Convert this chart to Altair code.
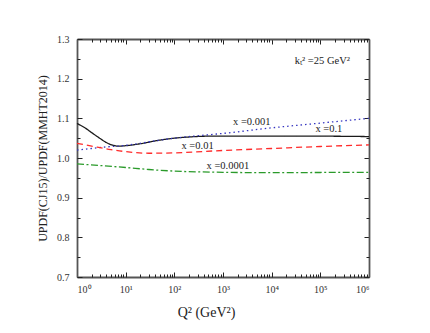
import altair as alt
import pandas as pd

# ---- data ----
q_x01 = [1, 1.5, 2, 3, 4, 5.5, 7, 10, 20, 50, 100, 200, 500, 1e3, 1e4, 1e5, 1e6]
r_x01 = [1.087, 1.075, 1.064, 1.049, 1.039, 1.032, 1.030, 1.031, 1.036, 1.045, 1.050, 1.053, 1.055, 1.055, 1.055, 1.055, 1.054]

q_x0001 = [1, 2, 4, 7, 10, 20, 50, 100, 300, 1e3, 1e4, 1e5, 1e6]
r_x0001 = [1.020, 1.024, 1.028, 1.030, 1.032, 1.037, 1.045, 1.050, 1.056, 1.062, 1.076, 1.088, 1.100]

q_x001 = [1, 2, 5, 10, 30, 100, 1e3, 1e4, 1e5, 1e6]
r_x001 = [1.037, 1.030, 1.021, 1.016, 1.012, 1.013, 1.019, 1.024, 1.029, 1.033]

q_x00001 = [1, 3, 10, 30, 100, 1e3, 1e4, 1e5, 1e6]
r_x00001 = [0.985, 0.981, 0.976, 0.971, 0.967, 0.964, 0.963, 0.9635, 0.964]

series_names = ["x=0.1", "x=0.001", "x=0.01", "x=0.0001"]
series_colors = ["#1a1a1a", "#3535c0", "#ff2a2a", "#2a9a2a"]
series_dash = [[1, 0], [1.5, 3], [6, 4], [7, 2.5, 2, 2.5]]

label_texts = ["x =0.001", "x =0.1", "x =0.01", "x =0.0001", "kₜ² =25 GeV²"]
label_q = [3900, 150000, 300, 1260, 110000]
label_r = [1.091, 1.072, 1.031, 0.980, 1.2445]

x_major = [1, 10, 100, 1e3, 1e4, 1e5, 1e6]
x_minor = [m * 10 ** k for k in range(6) for m in range(2, 10)]
y_major = [0.7, 0.8, 0.9, 1.0, 1.1, 1.2, 1.3]
y_minor = [0.75, 0.85, 0.95, 1.05, 1.15, 1.25]

W, H = 292, 238
FONT = "Liberation Serif"
TICK = "#222222"
DOMAIN = "#555555"

rows = []
for name, qs, rs in [("x=0.1", q_x01, r_x01), ("x=0.001", q_x0001, r_x0001),
                     ("x=0.01", q_x001, r_x001), ("x=0.0001", q_x00001, r_x00001)]:
    for q, r in zip(qs, rs):
        rows.append({"series": name, "q": q, "r": r})
df = pd.DataFrame(rows)
lab = pd.DataFrame({"text": label_texts, "q": label_q, "r": label_r})

xs = alt.Scale(type="log", domain=[1, 1e6], nice=False)
ys = alt.Scale(domain=[0.7, 1.3], zero=False, nice=False)

label_expr = "'10' + ['⁰','¹','²','³','⁴','⁵','⁶'][round(log(datum.value)/LN10)]"

main = alt.Chart(df).mark_line(strokeWidth=1.3, interpolate="monotone").encode(
    x=alt.X("q:Q", scale=xs, axis=alt.Axis(
        orient="bottom", values=x_major, ticks=False, grid=False, domain=True,
        domainColor=DOMAIN, domainWidth=1.8, labelExpr=label_expr,
        labelFont=FONT, labelFontSize=10, labelColor="#333333", labelPadding=7,
        title="Q² (GeV²)", titleFont=FONT, titleFontSize=14, titleFontWeight="normal",
        titleColor="#222222", titleX=129, titleY=39, titleBaseline="alphabetic",
        titleAnchor="start", titleAlign="center")),
    y=alt.Y("r:Q", scale=ys, axis=alt.Axis(
        orient="left", values=y_major, ticks=False, grid=False, domain=True,
        domainColor=DOMAIN, domainWidth=1.8, format=".1f",
        labelFont=FONT, labelFontSize=10, labelColor="#333333", labelPadding=8,
        title="UPDF(CJ15)/UPDF(MMHT2014)", titleFont=FONT, titleFontSize=12,
        titleFontWeight="normal", titleColor="#222222", titleX=-31, titleY=119,
        titleBaseline="alphabetic", titleAlign="center", titleAngle=270)),
    color=alt.Color("series:N", scale=alt.Scale(domain=series_names, range=series_colors), legend=None),
    strokeDash=alt.StrokeDash("series:N", scale=alt.Scale(domain=series_names, range=series_dash), legend=None),
    detail="series:N",
)


def tick_layer(xorient, xoff, xvals, xsize, yorient, yoff, yvals, ysize, dom):
    return alt.Chart(df).mark_point(opacity=0).encode(
        x=alt.X("q:Q", scale=xs, axis=alt.Axis(
            orient=xorient, offset=xoff, values=xvals, tickSize=xsize, tickColor=TICK,
            tickWidth=1, labels=False, grid=False, domain=dom, domainColor=DOMAIN,
            domainWidth=1.8, title=None)),
        y=alt.Y("r:Q", scale=ys, axis=alt.Axis(
            orient=yorient, offset=yoff, values=yvals, tickSize=ysize, tickColor=TICK,
            tickWidth=1, labels=False, grid=False, domain=dom, domainColor=DOMAIN,
            domainWidth=1.8, title=None)),
    )


# inward ticks at bottom/left edges
t1 = tick_layer("top", -H, x_major, 5, "right", -W, y_major, 5, False)
t2 = tick_layer("top", -H, x_minor, 3, "right", -W, y_minor, 3, False)
# inward ticks at top/right edges (with frame lines)
t3 = tick_layer("bottom", -H, x_major, 5, "left", -W, y_major, 5, True)
t4 = tick_layer("bottom", -H, x_minor, 3, "left", -W, y_minor, 3, False)

texts = alt.Chart(lab).mark_text(font=FONT, fontSize=10.5, color="#222222", align="center",
                                 baseline="middle").encode(
    x=alt.X("q:Q", scale=xs, axis=None),
    y=alt.Y("r:Q", scale=ys, axis=None),
    text="text:N",
)

chart = alt.layer(main, t1, t2, t3, t4, texts).resolve_axis(
    x="independent", y="independent"
).properties(
    width=W, height=H,
    autosize=alt.AutoSizeParams(type="none"),
    padding={"left": 69, "top": 31, "right": 53, "bottom": 48},
).configure_view(stroke=None)

chart.save("out.html", embed_options={"renderer": "svg", "actions": False})
